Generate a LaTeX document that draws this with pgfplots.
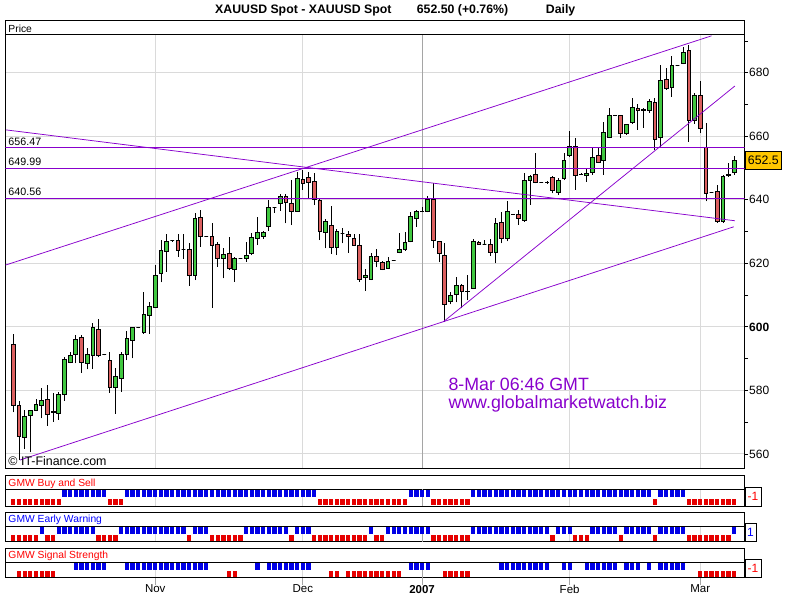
\documentclass[border=0pt]{standalone}
\usepackage{pgfplots}
\pgfplotsset{compat=1.18}
\usepackage{pgfplotstable}
\usepackage{fontspec}
\setmainfont{Liberation Sans}
\definecolor{cgreen}{RGB}{64,200,64}
\definecolor{cred}{RGB}{220,96,96}
\definecolor{purp}{RGB}{136,0,204}
\definecolor{sigblue}{RGB}{0,0,230}
\definecolor{sigred}{RGB}{230,0,0}
\definecolor{gridc}{RGB}{218,218,218}
\definecolor{gridd}{RGB}{165,165,165}
\definecolor{goldbox}{RGB}{255,198,0}
\newcommand\fs[1]{\fontsize{#1}{#1}\selectfont}
\pgfdeclareplotmark{bbox}{\pgfpathrectangle{\pgfpoint{-2.15pt}{-3.6pt}}{\pgfpoint{4.3pt}{7.2pt}}\pgfusepathqfill}
\pgfdeclareplotmark{rbox}{\pgfpathrectangle{\pgfpoint{-2.15pt}{-3pt}}{\pgfpoint{4.3pt}{6pt}}\pgfusepathqfill}

\pgfplotstableread{
i o h l c s1 s2 s3
0 594.5 597.9 573.1 575.4 -1 -1 0
1 575.4 576.6 558.1 565.4 -1 -1 -1
2 565.1 574.0 561.7 571.7 -1 -1 -1
3 572.1 574.0 560.5 573.8 -1 -1 -1
4 573.8 577.4 573.5 575.7 -1 -1 -1
5 575.3 580.9 571.2 577.0 -1 1 -1
6 577.2 581.7 568.9 572.4 -1 -1 -1
7 573.2 579.3 570.1 573.3 -1 -1 -1
8 572.7 579.4 570.7 578.8 -1 1 0
9 578.6 590.6 576.7 589.7 1 1 0
10 588.8 592.1 588.5 591.1 1 1 0
11 591.2 597.4 588.5 596.0 1 1 1
12 596.7 597.4 585.6 588.8 1 1 1
13 588.5 593.2 586.6 591.3 1 1 1
14 591.1 601.1 586.9 599.8 1 1 1
15 599.2 602.4 590.4 591.1 1 -1 1
16 591.2 591.4 591.0 591.2 1 -1 1
17 589.4 592.2 579.3 581.1 -1 -1 0
18 581.1 587.1 572.7 584.5 -1 -1 0
19 583.8 592.2 579.6 591.3 -1 1 0
20 591.3 598.7 589.5 596.4 1 1 1
21 595.8 599.9 590.1 599.8 1 1 1
22 599.7 600.0 599.5 599.7 1 1 1
23 598.3 611.1 597.9 604.0 1 1 1
24 603.5 607.9 597.9 606.6 1 1 1
25 606.0 619.5 605.8 616.3 1 1 1
26 616.8 627.3 614.0 624.2 1 1 1
27 623.9 629.1 617.4 627.0 1 1 1
28 627.1 627.5 626.8 627.1 1 1 1
29 627.2 629.1 622.1 624.1 1 1 1
30 624.5 629.1 621.4 624.5 1 1 1
31 624.5 626.3 613.0 616.2 1 -1 1
32 616.2 635.7 614.7 634.2 1 1 1
33 634.5 636.8 625.2 628.4 1 1 1
34 628.5 628.5 628.3 628.5 1 1 1
35 628.5 632.6 606.0 625.5 1 -1 0
36 626.0 626.8 618.9 621.6 1 -1 0
37 621.6 624.7 615.3 622.8 1 -1 0
38 623.0 628.4 617.9 618.4 1 -1 -1
39 618.2 622.1 614.2 621.6 1 -1 -1
40 621.6 621.6 621.6 621.6 1 -1 0
41 621.6 626.8 620.5 622.4 1 1 0
42 623.1 629.7 622.5 628.1 1 1 0
43 627.8 634.5 625.7 629.7 1 1 1
44 628.4 630.3 627.8 629.7 1 1 0
45 631.5 639.9 630.3 637.6 1 1 1
46 637.6 637.6 635.9 637.6 1 1 1
47 638.9 641.8 636.6 641.2 1 1 1
48 641.0 641.7 632.6 639.1 1 1 1
49 638.9 646.2 632.0 636.2 1 -1 1
50 636.5 648.8 636.2 646.7 1 1 1
51 646.5 649.4 643.1 645.2 1 1 1
52 647.0 648.8 640.7 645.5 1 1 1
53 645.8 648.5 638.3 640.1 1 -1 0
54 639.9 640.4 627.3 629.9 -1 -1 0
55 629.6 633.8 624.7 633.3 -1 -1 0
56 632.0 638.0 622.9 625.0 -1 -1 -1
57 625.0 630.7 622.6 630.2 -1 -1 -1
58 629.4 631.0 626.3 629.4 -1 -1 0
59 629.1 630.3 623.3 628.4 -1 -1 -1
60 627.8 629.2 625.4 625.5 -1 -1 -1
61 625.7 629.2 614.2 614.9 -1 -1 -1
62 615.6 618.1 611.4 616.3 -1 -1 -1
63 614.9 623.1 614.7 622.1 -1 1 -1
64 622.1 624.4 618.7 620.5 -1 -1 -1
65 620.3 620.7 617.9 618.2 -1 -1 -1
66 618.4 622.1 618.2 620.7 -1 1 -1
67 620.9 620.9 620.9 620.9 -1 1 -1
68 623.3 629.4 623.1 624.5 -1 1 -1
69 624.5 630.0 623.9 626.6 -1 1 0
70 626.8 636.0 626.6 634.9 1 1 1
71 634.2 636.9 631.5 636.5 1 1 1
72 636.3 637.8 636.1 636.3 1 1 1
73 636.3 641.3 636.0 640.2 1 1 1
74 640.2 645.2 624.9 627.2 -1 -1 0
75 627.0 627.0 620.3 623.1 -1 -1 0
76 622.6 626.3 601.6 607.1 -1 -1 -1
77 607.9 611.1 607.1 609.8 -1 -1 -1
78 610.2 615.8 607.7 613.2 -1 -1 -1
79 612.9 613.4 605.8 611.1 -1 -1 -1
80 611.1 616.3 608.4 611.3 -1 -1 -1
81 612.1 627.7 611.9 627.0 1 1 0
82 626.5 627.0 625.8 626.0 1 1 0
83 626.1 627.3 626.0 626.1 1 1 0
84 626.0 627.7 622.4 623.5 1 1 0
85 623.5 634.2 620.0 632.6 1 1 0
86 632.8 636.3 626.3 627.9 1 1 1
87 627.9 639.6 626.9 636.5 1 1 1
88 635.5 635.5 635.5 635.5 1 1 1
89 635.5 636.8 632.1 634.0 1 1 1
90 633.4 648.3 633.1 646.2 1 1 1
91 646.0 647.8 638.4 647.5 1 1 1
92 648.0 654.6 645.2 645.5 1 1 1
93 645.5 645.5 645.5 645.5 1 1 1
94 645.5 646.0 645.0 645.5 1 1 1
95 647.1 647.6 642.0 643.1 1 -1 0
96 642.3 646.8 641.5 646.0 1 1 0
97 646.8 654.6 646.2 652.5 1 1 1
98 653.9 661.5 653.6 656.7 1 1 1
99 656.7 659.6 643.1 647.8 1 -1 0
100 648.1 648.5 647.8 648.1 1 -1 0
101 647.8 650.0 645.6 648.3 1 -1 1
102 648.7 656.2 647.8 653.4 1 1 1
103 654.0 656.7 651.5 651.8 1 1 1
104 652.5 664.6 647.8 661.2 1 1 1
105 659.7 668.8 659.4 666.5 1 1 1
106 666.5 666.7 666.3 666.5 1 1 1
107 666.5 666.5 659.4 660.9 1 -1 0
108 660.9 663.8 660.4 663.6 1 1 1
109 664.3 672.0 663.8 669.1 1 1 1
110 668.8 670.0 662.0 668.2 1 1 1
111 668.2 669.0 662.6 668.6 1 1 0
112 668.0 671.8 667.3 670.9 1 1 1
113 670.6 672.0 655.7 659.1 -1 -1 0
114 659.6 682.5 656.3 677.6 1 1 1
115 678.0 681.5 674.6 675.0 1 1 1
116 675.4 685.1 672.5 682.3 1 1 1
117 682.3 682.5 682.1 682.3 1 1 1
118 683.0 688.0 682.7 686.4 1 1 1
119 687.0 688.6 658.2 665.1 -1 -1 0
120 665.1 673.6 664.0 672.9 -1 -1 0
121 672.9 677.3 661.0 662.6 -1 -1 -1
122 656.5 664.1 639.5 642.1 -1 -1 -1
123 642.4 642.6 642.2 642.4 -1 -1 -1
124 642.6 644.7 632.7 633.2 -1 -1 -1
125 633.2 647.7 632.7 647.4 -1 -1 -1
126 647.7 651.6 647.2 648.0 -1 -1 -1
127 648.6 653.7 647.9 652.5 -1 1 -1
}\data

\pgfplotsset{
  panel/.style={scale only axis, width=739pt, xmin=-1.374, xmax=128.8,
    ytick=\empty, xtick={25,51,98,121}, xticklabels={}, xmajorgrids,
    grid style={gridc, line width=1pt},
    extra x ticks={72}, extra x tick labels={},
    extra x tick style={grid=major, grid style={gridd, line width=1pt}},
    major tick length=0pt, axis line style={line width=1pt}},
}

\begin{document}
\begin{tikzpicture}[x=1pt,y=1pt]
\useasboundingbox (0,0) rectangle (800,600);
% title
\node[anchor=base west, inner sep=0pt, font=\fs{12.3}\bfseries] at (215,586) {XAUUSD Spot - XAUUSD Spot};
\node[anchor=base west, inner sep=0pt, font=\fs{12.3}\bfseries] at (416.7,586) {652.50 (+0.76\%)};
\node[anchor=base west, inner sep=0pt, font=\fs{12.3}\bfseries] at (545.7,586) {Daily};

% main panel header
\draw[line width=1pt] (5.5,565) rectangle (744.5,579);
\node[anchor=base west, inner sep=0pt, font=\fs{10.3}] at (8.3,567.7) {Price};

\begin{axis}[name=main, at={(5.5pt,132pt)}, anchor=south west, scale only axis,
  width=739pt, height=433pt,
  xmin=-1.374, xmax=128.8, ymin=555.59, ymax=691.86,
  axis line style={line width=1pt},
  xtick={25,51,98,121}, xticklabels={}, xtick style={draw=none},
  extra x ticks={72}, extra x tick labels={},
  extra x tick style={grid=major, grid style={gridd, line width=1pt}, tick style={draw=none}},
  xmajorgrids, ymajorgrids, grid style={gridc, line width=1pt},
  ytick={560,580,600,620,640,660,680},
  yticklabels={560,580,\textbf{600},620,640,660,680},
  minor ytick={570,590,610,630,650,670,690},
  ytick pos=right, yticklabel pos=right,
  major tick length=3.5pt, minor tick length=3.5pt, tick align=outside,
  ytick style={black, line width=0.8pt},
  yticklabel style={font=\fs{12}, inner sep=0pt, xshift=1pt},
]
\pgfplotsinvokeforeach{0,...,127}{%
  \pgfplotstablegetelem{#1}{o}\of\data \let\vO=\pgfplotsretval
  \pgfplotstablegetelem{#1}{h}\of\data \let\vH=\pgfplotsretval
  \pgfplotstablegetelem{#1}{l}\of\data \let\vL=\pgfplotsretval
  \pgfplotstablegetelem{#1}{c}\of\data \let\vC=\pgfplotsretval
  \ifdim\vC pt<\vO pt \def\col{cred}\else\def\col{cgreen}\fi
  \pgfmathsetmacro{\xl}{#1-0.33}%
  \pgfmathsetmacro{\xr}{#1+0.33}%
  \edef\tmp{\noexpand\addplot[black, line width=0.8pt] coordinates {(#1,\vL) (#1,\vH)};
    \noexpand\addplot[draw=black, line width=0.8pt, fill=\col] coordinates {(\xl,\vO) (\xr,\vO) (\xr,\vC) (\xl,\vC)} -- cycle;}%
  \tmp
}
% support / resistance lines
\addplot[purp, line width=0.9pt] coordinates {(-1.374,656.47) (128.8,656.47)};
\addplot[purp, line width=0.9pt] coordinates {(-1.374,649.99) (128.8,649.99)};
\addplot[purp, line width=0.9pt] coordinates {(-1.374,640.56) (128.8,640.56)};
\addplot[purp, line width=0.75pt] coordinates {(-1.29,662.0) (127.1,633.4)};
\addplot[purp, line width=0.75pt] coordinates {(-1.374,619.45) (123.0,691.6)};
\addplot[purp, line width=0.75pt] coordinates {(1.18,558.1) (126.9,631.5)};
\addplot[purp, line width=0.75pt] coordinates {(75.75,601.6) (127.1,675.8)};
\end{axis}

% level labels
\node[anchor=base west, inner sep=0pt, font=\fs{10.7}] at (8.3,454.5) {656.47};
\node[anchor=base west, inner sep=0pt, font=\fs{10.7}] at (8.3,434.5) {649.99};
\node[anchor=base west, inner sep=0pt, font=\fs{10.7}] at (8.3,404.5) {640.56};
% current price box
\draw[fill=goldbox, line width=0.8pt] (745.7,430.7) rectangle (781,448.3);
\node[anchor=center, inner sep=0pt, font=\fs{12.3}] at (763.3,439.5) {652.5};
% watermark
\node[anchor=base west, inner sep=0pt, font=\fs{17.8}, text=purp] at (448.3,209.3) {8-Mar 06:46 GMT};
\node[anchor=base west, inner sep=0pt, font=\fs{17.8}, text=purp] at (448.3,191.7) {www.globalmarketwatch.biz};
\node[anchor=base west, inner sep=0pt, font=\fs{12.4}] at (8.3,134.2) {© IT-Finance.com};

% panel 1
\draw[line width=1pt] (5.5,110.7) rectangle (744.5,125);
\node[anchor=base west, inner sep=0pt, font=\fs{10.3}, text=red] at (8.3,113.5) {GMW Buy and Sell};
\begin{axis}[panel, at={(5.5pt,94pt)}, anchor=south west, height=16.7pt, ymin=-8.35, ymax=8.35]
\addplot[only marks, mark=bbox, sigblue, restrict y to domain=3:5] table[x=i, y expr=4*\thisrow{s1}] {\data};
\addplot[only marks, mark=rbox, sigred, restrict y to domain=-5:-3] table[x=i, y expr=3.95*\thisrow{s1}] {\data};
\end{axis}
\draw[fill=white, line width=0.8pt] (745,94) rectangle (761,112.7);
\node[anchor=center, inner sep=0pt, font=\fs{12}, text=red] at (753,103.3) {-1};

% panel 2
\draw[line width=1pt] (5.5,73.3) rectangle (744.5,87.7);
\node[anchor=base west, inner sep=0pt, font=\fs{10.3}, text=blue] at (8.3,77.3) {GMW Early Warning};
\begin{axis}[panel, at={(5.5pt,58.3pt)}, anchor=south west, height=15pt, ymin=-7.5, ymax=7.5]
\addplot[only marks, mark=bbox, sigblue, restrict y to domain=3:5] table[x=i, y expr=3.8*\thisrow{s2}] {\data};
\addplot[only marks, mark=rbox, sigred, restrict y to domain=-5:-3] table[x=i, y expr=3.8*\thisrow{s2}] {\data};
\end{axis}
\draw[fill=white, line width=0.8pt] (745,59) rectangle (756,76.7);
\node[anchor=center, inner sep=0pt, font=\fs{12}, text=blue] at (750.5,67.8) {1};

% panel 3
\draw[line width=1pt] (5.5,37.3) rectangle (744.5,51.3);
\node[anchor=base west, inner sep=0pt, font=\fs{10.3}, text=red] at (8.3,41.7) {GMW Signal Strength};
\begin{axis}[panel, at={(5.5pt,22.7pt)}, anchor=south west, height=14.6pt, ymin=-7.3, ymax=7.3,
  xtick={25,51,98,121}, xticklabels={Nov,Dec,Feb,Mar},
  extra x tick labels={\textbf{2007}},
  xtick pos=bottom, tick align=outside, major tick length=7.5pt,
  xtick style={gridd, line width=1pt},
  extra x tick style={grid=major, grid style={gridd, line width=1pt}, tick style={gridd, line width=1pt}},
  xticklabel style={font=\fs{11.5}, inner sep=0pt, anchor=north}]
\addplot[only marks, mark=bbox, sigblue, restrict y to domain=3:5] table[x=i, y expr=3.7*\thisrow{s3}] {\data};
\addplot[only marks, mark=rbox, sigred, restrict y to domain=-5:-3] table[x=i, y expr=3.7*\thisrow{s3}] {\data};
\end{axis}
\draw[fill=white, line width=0.8pt] (745,22.7) rectangle (761,40.7);
\node[anchor=center, inner sep=0pt, font=\fs{12}, text=red] at (753,31.7) {-1};
\end{tikzpicture}
\end{document}
